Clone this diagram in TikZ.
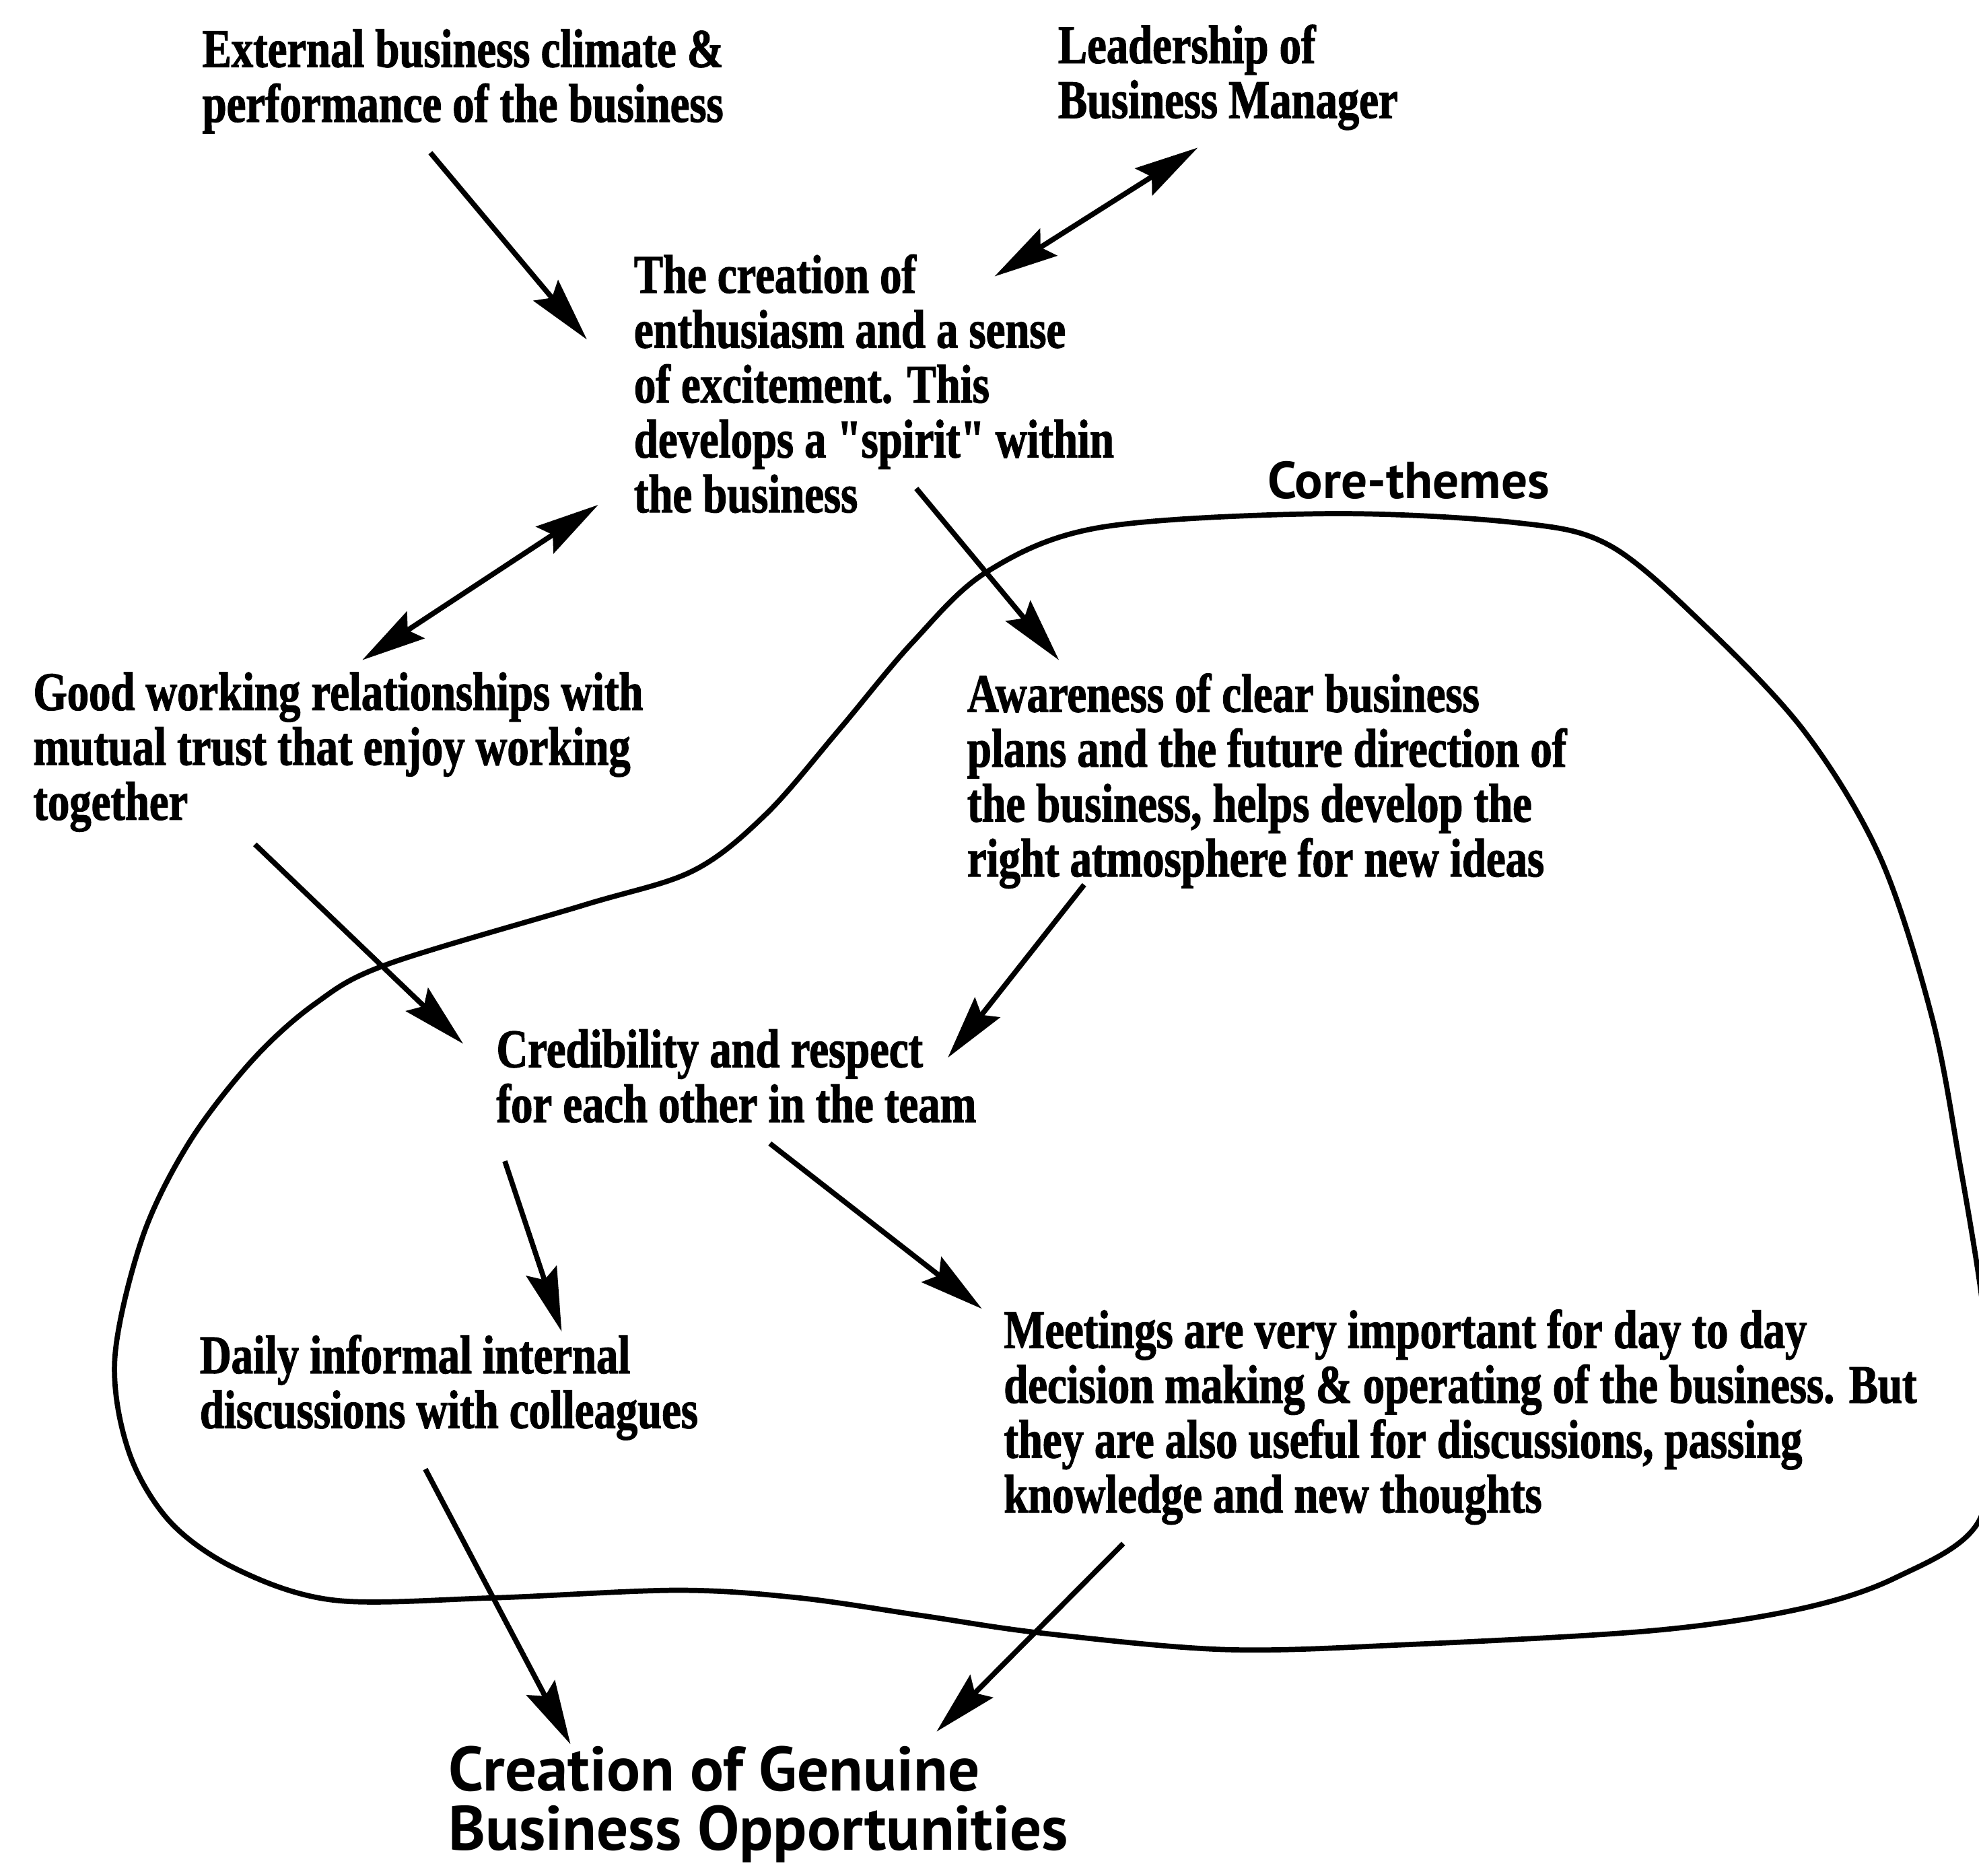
\documentclass[tikz,border=0pt]{standalone}
\usepackage{fontspec}
\usetikzlibrary{arrows.meta}
\newfontfamily\bodyfont{Liberation Serif}[FakeStretch=0.8, FakeBold=1.5]
\newfontfamily\headfont{PT Sans}[FakeStretch=1.0]

\begin{document}
\begin{tikzpicture}[x=0.01875cm, y=-0.01875cm,
  every node/.style={inner sep=0pt},
  txt/.style={anchor=north west, align=left, yshift=18pt,
    font=\bodyfont\bfseries\fontsize{23}{23.2}\selectfont,
    execute at begin node={\rule{0pt}{18pt}}},
  bigtxt/.style={anchor=north west, align=left, yshift=24pt,
    font=\headfont\bfseries\fontsize{26.5}{25}\selectfont,
    execute at begin node={\rule{0pt}{24pt}}},
  tagtxt/.style={bigtxt, font=\headfont\bfseries\fontsize{22}{24}\selectfont},
  tip/.tip={Stealth[length=27pt,width=13.5pt,inset=4pt]},
  link/.style={line width=2.2pt, -tip},
  twoway/.style={line width=2.2pt, tip-tip},
  blob/.style={line width=2.2pt, line join=round}]

\useasboundingbox (0,0) rectangle (1568,1486);

% text blocks
\node[txt] (ext) at (160,56.5) {External business climate \&\\performance of the business};
\node[txt] (lead) at (838,53) {Leadership of\\Business Manager};
\node[txt] (spirit) at (502,235) {The creation of\\enthusiasm and a sense\\of excitement. This\\develops a "spirit" within\\the business};
\node[tagtxt] (core) at (1004,394.7) {Core-themes};
\node[txt] (trust) at (26,566) {Good working relationships with\\mutual trust that enjoy working\\together};
\node[txt] (aware) at (766,567) {Awareness of clear business\\plans and the future direction of\\the business, helps develop the\\right atmosphere for new ideas};
\node[txt] (cred) at (393,849) {Credibility and respect\\for each other in the team};
\node[txt] (daily) at (158,1091) {Daily informal internal\\discussions with colleagues};
\node[txt] (meet) at (795,1071) {Meetings are very important for day to day\\decision making \& operating of the business. But\\they are also useful for discussions, passing\\knowledge and new thoughts};
\node[bigtxt] (goal) at (355,1428) {Creation of Genuine\\Business Opportunities};

% connector ends
\coordinate (ext-out) at (341,121);   \coordinate (spirit-in) at (465,269);
\coordinate (lead-end) at (949,117);  \coordinate (spirit-ne) at (788,219);
\coordinate (spirit-sw) at (474,400); \coordinate (trust-end) at (287,523);
\coordinate (spirit-out) at (726,387);\coordinate (aware-in) at (839,523);
\coordinate (trust-out) at (202,669); \coordinate (cred-in1) at (367,827);
\coordinate (aware-out) at (859,701); \coordinate (cred-in2) at (751,838);
\coordinate (cred-out1) at (400,920); \coordinate (daily-in) at (445,1055);
\coordinate (cred-out2) at (610,906); \coordinate (meet-in) at (778,1037);
\coordinate (daily-out) at (337,1164);\coordinate (goal-in1) at (452,1382);
\coordinate (meet-out) at (890,1223); \coordinate (goal-in2) at (742,1372);

% connectors
\draw[link] (ext-out) -- (spirit-in);
\draw[twoway] (lead-end) -- (spirit-ne);
\draw[twoway] (spirit-sw) -- (trust-end);
\draw[link] (spirit-out) -- (aware-in);
\draw[link] (trust-out) -- (cred-in1);
\draw[link] (aware-out) -- (cred-in2);
\draw[link] (cred-out1) -- (daily-in);
\draw[link] (cred-out2) -- (meet-in);
\draw[link] (daily-out) -- (goal-in1);
\draw[link] (meet-out) -- (goal-in2);

% core-themes outline
\draw[blob] plot[smooth cycle, tension=0.55] coordinates {
  (1049,407) (1200,414) (1275,432) (1350,495) (1430,580) (1490,680)
  (1531,807) (1553,923) (1570,1027) (1578,1110) (1568,1205)
  (1502,1250) (1425,1275) (1309,1292) (1116,1303) (971,1307) (826,1294)
  (730,1280) (633,1266) (537,1260) (391,1266) (266,1268) (189,1244)
  (135,1206) (102,1150) (91,1076) (113,980) (150,905) (200,840)
  (250,795) (307,764) (463,717) (549,690) (607,645) (665,578)
  (723,509) (782,453) (871,418)};
\end{tikzpicture}
\end{document}
